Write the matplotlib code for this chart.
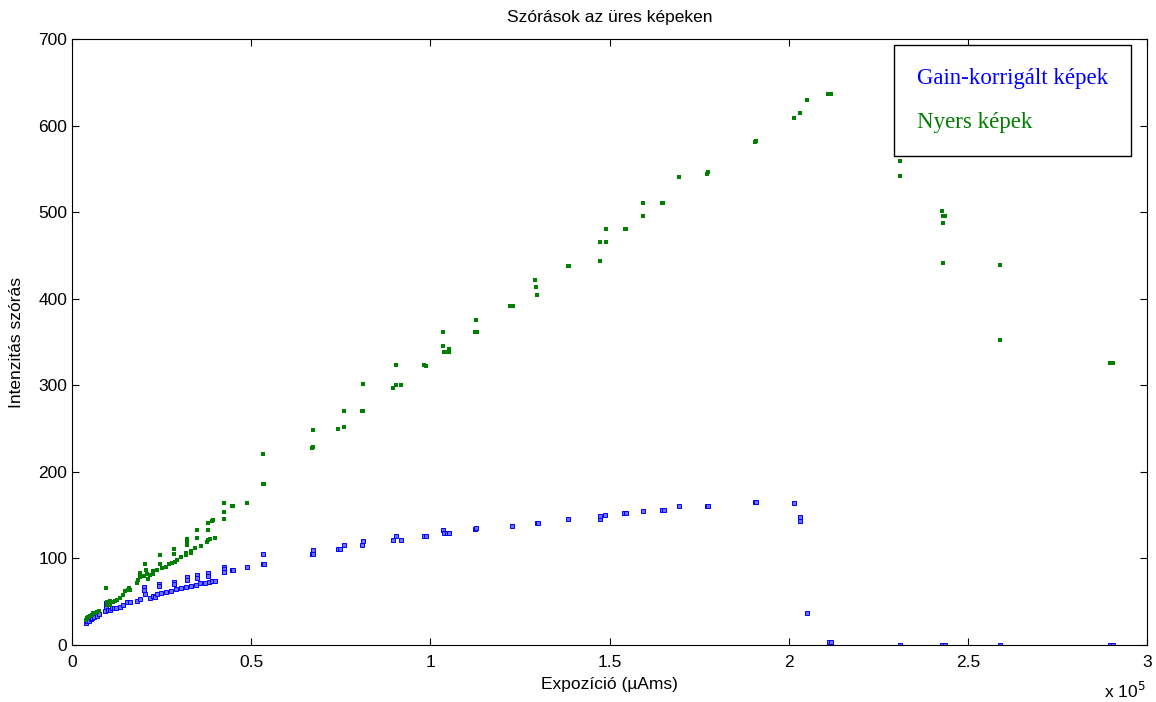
import numpy as np
import matplotlib.pyplot as plt

# exposure values read in units of 1e5 uAms
nyers_x = [0.039, 0.041, 0.045, 0.050, 0.055, 0.059, 0.064, 0.069, 0.076,
           0.095, 0.097, 0.097, 0.106, 0.106, 0.113, 0.120, 0.125, 0.134, 0.143,
           0.148, 0.155, 0.160, 0.162, 0.181, 0.185, 0.190, 0.190, 0.201, 0.204,
           0.207, 0.210, 0.213, 0.218, 0.225, 0.227, 0.236, 0.246, 0.246, 0.250,
           0.262, 0.270, 0.278, 0.285, 0.285, 0.287, 0.294, 0.304, 0.318, 0.318,
           0.320, 0.320, 0.320, 0.331, 0.331, 0.343, 0.350, 0.350, 0.359, 0.376,
           0.380, 0.385, 0.380, 0.380, 0.390, 0.394, 0.399, 0.424, 0.424, 0.424,
           0.446, 0.450, 0.489, 0.532, 0.536, 0.534,
           0.669, 0.672, 0.672, 0.743, 0.759, 0.759, 0.809, 0.813, 0.813, 0.895,
           0.903, 0.917, 0.903, 0.983, 0.987, 1.035, 1.035, 1.039, 1.047, 1.053,
           1.053, 1.125, 1.129, 1.127, 1.223, 1.230, 1.293, 1.295, 1.299, 1.384,
           1.388, 1.473, 1.473, 1.489, 1.489, 1.542, 1.546, 1.593, 1.593, 1.646,
           1.650, 1.695, 1.771, 1.775, 1.906, 1.910, 2.015, 2.031, 2.051, 2.110,
           2.117, 2.311, 2.311, 2.429, 2.432, 2.435, 2.432, 2.432, 2.590, 2.590,
           2.897, 2.905]
nyers_y = [29, 31, 32, 33.5, 35, 36.6, 37.5, 38.5, 39.6,
           65.5, 46, 50, 46, 51, 50, 51, 52, 54, 58,
           62, 63, 65.5, 63, 72, 75, 79, 83, 80, 94,
           87, 82, 76, 81, 82, 85, 87, 104, 94, 89,
           90.5, 93, 95, 110.6, 105, 96, 98, 102, 104, 106,
           123, 120.6, 115.5, 106, 109, 112, 133, 124, 114, 119,
           121, 122, 133, 141, 143, 144, 124, 164, 154, 145,
           160, 161, 164, 186, 186, 221,
           228, 229, 248, 250, 252, 270, 270, 270, 302, 297,
           300, 300, 323, 323, 322, 362, 345, 338, 338, 338,
           342, 362, 362, 375, 392, 392, 422, 413, 404, 438,
           438, 444, 466, 466, 480, 481, 481, 511, 496, 511,
           511, 541, 544, 546, 581, 582, 609, 614, 630, 637,
           637, 559, 542, 501, 496, 496, 487, 441, 439, 352,
           326, 326]

gain_x = [0.039, 0.043, 0.047, 0.052, 0.057, 0.061, 0.069, 0.076, 0.092,
          0.095, 0.095, 0.101, 0.106, 0.111, 0.117, 0.123, 0.134, 0.143, 0.153,
          0.162, 0.181, 0.190, 0.201, 0.201, 0.204, 0.218, 0.225, 0.232, 0.236,
          0.244, 0.244, 0.248, 0.262, 0.275, 0.285, 0.285, 0.290, 0.303, 0.317,
          0.320, 0.320, 0.331, 0.346, 0.350, 0.350, 0.357, 0.371, 0.380, 0.380,
          0.383, 0.390, 0.399, 0.424, 0.424, 0.424, 0.446, 0.450, 0.489, 0.532,
          0.536, 0.534,
          0.669, 0.672, 0.672, 0.743, 0.747, 0.759, 0.809, 0.813, 0.897, 0.903,
          0.917, 0.983, 0.987, 1.035, 1.039, 1.047, 1.053, 1.125, 1.127, 1.227,
          1.297, 1.300, 1.385, 1.474, 1.474, 1.488, 1.541, 1.546, 1.593, 1.646,
          1.651, 1.695, 1.771, 1.775, 1.906, 1.910, 2.015, 2.031, 2.033, 2.051,
          2.113, 2.117, 2.311, 2.429, 2.435, 2.590, 2.897, 2.905]
gain_y = [25, 27.7, 28, 29.7, 31, 32, 33.5, 35.8, 39.6,
          44.3, 49, 40.4, 41, 42.4, 42.4, 42.4, 44.3, 46.2, 50,
          50, 51.2, 52.8, 66.7, 63.5, 59, 54, 56.6, 55, 58.6,
          71, 68, 59.7, 61.6, 62.7, 73, 70.5, 64.3, 65.5, 66.7,
          78, 75, 68.2, 69.3, 81, 77.7, 71.3, 71.3, 83, 80,
          72.4, 73.6, 74.3, 90.5, 87.4, 84.3, 86.6, 86.6, 90.5, 94,
          94, 105,
          105, 105, 110, 111, 111, 115, 115, 120.5, 121, 126,
          121, 126, 126, 133, 129, 129, 129, 134, 135, 138,
          141, 141, 145, 146, 149, 150, 152, 152, 155, 156,
          156, 160.6, 161, 161, 165.5, 165.5, 164, 148, 143, 37,
          3.8, 3.8, 0, 0, 0, 0, 0, 0]

plt.rcParams['font.family'] = ['Liberation Sans', 'DejaVu Sans']

fig = plt.figure(figsize=(11.56, 7.02), dpi=100)
ax = fig.add_axes([0.0623, 0.0812, 0.9299, 0.8632])

ax.plot(np.array(gain_x) * 1e5, gain_y, 's', color='blue', ms=3,
        mfc='#7070ff', mec='blue', mew=0.7, label='Gain-korrigált képek')
ax.plot(np.array(nyers_x) * 1e5, nyers_y, 's', color='#008000', ms=2.6,
        mew=0, label='Nyers képek')

ax.set_xlim(0, 3e5)
ax.set_ylim(0, 700)
xt = np.arange(0, 3.01, 0.5)
ax.set_xticks(xt * 1e5)
ax.set_xticklabels(['0', '0.5', '1', '1.5', '2', '2.5', '3'])
ax.set_yticks(np.arange(0, 701, 100))
ax.tick_params(direction='in', top=True, right=True, length=5, labelsize=12.5)
ax.tick_params(axis='x', pad=7)
for s in ax.spines.values():
    s.set_linewidth(0.8)

ax.set_title('Szórások az üres képeken', fontsize=12.5, pad=12)
ax.set_xlabel('Expozíció (µAms)', fontsize=12.5, labelpad=5)
ax.set_ylabel('Intenzitás szórás', fontsize=12.5, labelpad=10)
fig.text(0.991, 0.002, 'x 10$^{5}$', fontsize=12.5, ha='right', va='bottom')

leg = ax.legend(loc='upper right', bbox_to_anchor=(0.985, 0.99),
                handlelength=0, handletextpad=0, markerscale=0,
                fancybox=False, edgecolor='black', framealpha=1,
                borderpad=1.0, labelspacing=1.0, borderaxespad=0,
                prop={'family': 'Liberation Serif', 'size': 16.5})
leg.get_frame().set_linewidth(1.0)
for txt, c in zip(leg.get_texts(), ['blue', '#008000']):
    txt.set_color(c)
for h in leg.legend_handles:
    h.set_visible(False)

fig.savefig('out.png', dpi=100)
